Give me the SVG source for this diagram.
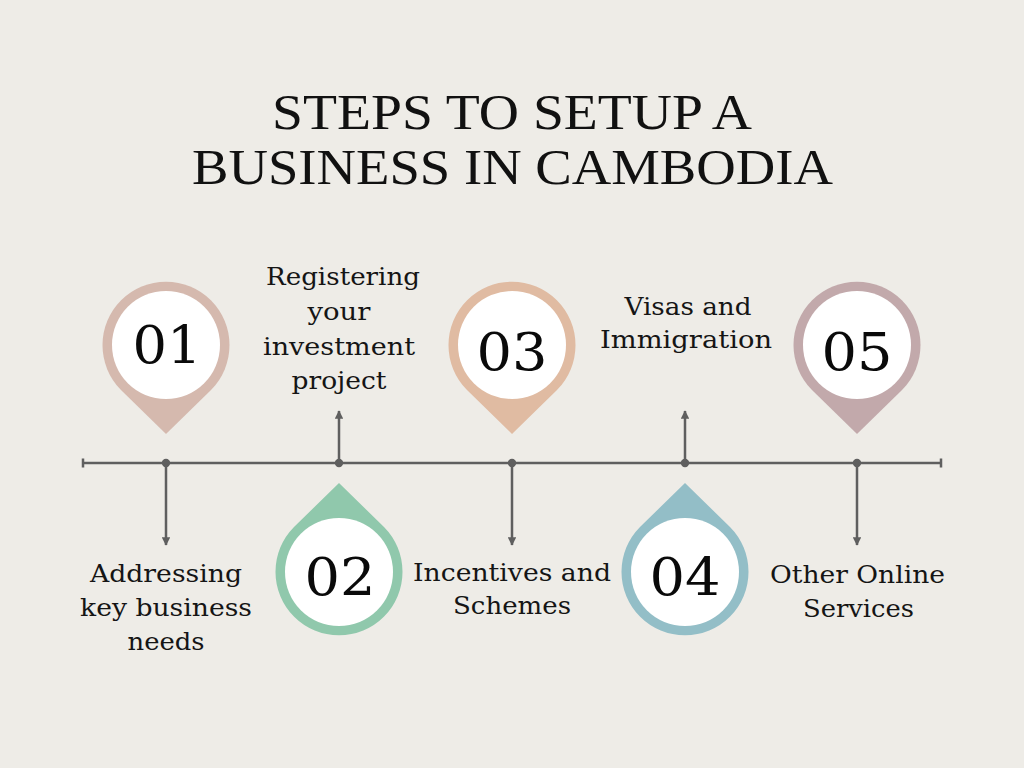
<svg xmlns="http://www.w3.org/2000/svg" width="1024" height="768" viewBox="0 0 1024 768">
<defs>
<style>
.title{font-family:"Liberation Serif","DejaVu Serif",serif;font-size:50px;fill:#111;text-anchor:middle}
.lbl{font-family:"DejaVu Serif","Liberation Serif",serif;font-size:25px;fill:#151515;text-anchor:middle}
.num{font-family:"DejaVu Serif","Liberation Serif",serif;font-size:52px;fill:#0a0a0a;text-anchor:middle}
.ln{stroke:#5f5f5f;stroke-width:2.5;fill:none}
.inner{fill:#ffffff}
</style>
<marker id="ah" viewBox="0 0 10 10" refX="9" refY="5" markerWidth="3.4" markerHeight="3.4" orient="auto" markerUnits="strokeWidth">
<path d="M0,0 L10,5 L0,10 Z" fill="#5f5f5f"/>
</marker>
</defs>
<rect width="1024" height="768" fill="#eeece7"/>
<g id="title">
<text class="title" x="512" y="129" textLength="480" lengthAdjust="spacingAndGlyphs">STEPS TO SETUP A</text>
<text class="title" x="512.5" y="184" textLength="641" lengthAdjust="spacingAndGlyphs">BUSINESS IN CAMBODIA</text>
</g>
<g id="connectors">
<line class="ln" x1="83" y1="463" x2="941" y2="463"/>
<line class="ln" x1="83" y1="458.5" x2="83" y2="467.5"/>
<line class="ln" x1="941" y1="458.5" x2="941" y2="467.5"/>
<circle cx="166" cy="463" r="4.2" fill="#5f5f5f"/>
<circle cx="339" cy="463" r="4.2" fill="#5f5f5f"/>
<circle cx="512" cy="463" r="4.2" fill="#5f5f5f"/>
<circle cx="685" cy="463" r="4.2" fill="#5f5f5f"/>
<circle cx="857" cy="463" r="4.2" fill="#5f5f5f"/>
<line class="ln" x1="166" y1="463" x2="166" y2="545" marker-end="url(#ah)"/>
<line class="ln" x1="339" y1="463" x2="339" y2="411" marker-end="url(#ah)"/>
<line class="ln" x1="512" y1="463" x2="512" y2="545" marker-end="url(#ah)"/>
<line class="ln" x1="685" y1="463" x2="685" y2="411" marker-end="url(#ah)"/>
<line class="ln" x1="857" y1="463" x2="857" y2="545" marker-end="url(#ah)"/>
</g>
<g id="step1">
<path d="M166,434 L211,390 A63.5,63.5 0 1 0 121,390 Z" fill="#d5b9ae"/>
<circle class="inner" cx="166" cy="345" r="54"/>
<text class="num" x="167" y="363" textLength="69" lengthAdjust="spacingAndGlyphs">01</text>
<text class="lbl" x="166" y="582" textLength="152" lengthAdjust="spacingAndGlyphs">Addressing</text>
<text class="lbl" x="166" y="616" textLength="172" lengthAdjust="spacingAndGlyphs">key business</text>
<text class="lbl" x="166" y="650" textLength="77" lengthAdjust="spacingAndGlyphs">needs</text>
</g>
<g id="step2">
<path d="M339,483 L384,527 A63.5,63.5 0 1 1 294,527 Z" fill="#90c8ac"/>
<circle class="inner" cx="339" cy="572" r="54"/>
<text class="num" x="340" y="595" textLength="71" lengthAdjust="spacingAndGlyphs">02</text>
<text class="lbl" x="343" y="285" textLength="154" lengthAdjust="spacingAndGlyphs">Registering</text>
<text class="lbl" x="339" y="320" textLength="63" lengthAdjust="spacingAndGlyphs">your</text>
<text class="lbl" x="339" y="355" textLength="152" lengthAdjust="spacingAndGlyphs">investment</text>
<text class="lbl" x="339" y="389" textLength="95" lengthAdjust="spacingAndGlyphs">project</text>
</g>
<g id="step3">
<path d="M512,434 L557,390 A63.5,63.5 0 1 0 467,390 Z" fill="#e0bba2"/>
<circle class="inner" cx="512" cy="345" r="54"/>
<text class="num" x="512" y="370" textLength="71" lengthAdjust="spacingAndGlyphs">03</text>
<text class="lbl" x="512" y="581" textLength="198" lengthAdjust="spacingAndGlyphs">Incentives and</text>
<text class="lbl" x="512" y="614" textLength="118" lengthAdjust="spacingAndGlyphs">Schemes</text>
</g>
<g id="step4">
<path d="M685,483 L730,527 A63.5,63.5 0 1 1 640,527 Z" fill="#93bec7"/>
<circle class="inner" cx="685" cy="572" r="54"/>
<text class="num" x="685" y="595" textLength="71" lengthAdjust="spacingAndGlyphs">04</text>
<text class="lbl" x="688" y="315" textLength="127" lengthAdjust="spacingAndGlyphs">Visas and</text>
<text class="lbl" x="686" y="348" textLength="172" lengthAdjust="spacingAndGlyphs">Immigration</text>
</g>
<g id="step5">
<path d="M857,434 L902,390 A63.5,63.5 0 1 0 812,390 Z" fill="#c2a9ab"/>
<circle class="inner" cx="857" cy="345" r="54"/>
<text class="num" x="857" y="370" textLength="71" lengthAdjust="spacingAndGlyphs">05</text>
<text class="lbl" x="857.5" y="583" textLength="175" lengthAdjust="spacingAndGlyphs">Other Online</text>
<text class="lbl" x="858.5" y="617" textLength="111" lengthAdjust="spacingAndGlyphs">Services</text>
</g>
</svg>
